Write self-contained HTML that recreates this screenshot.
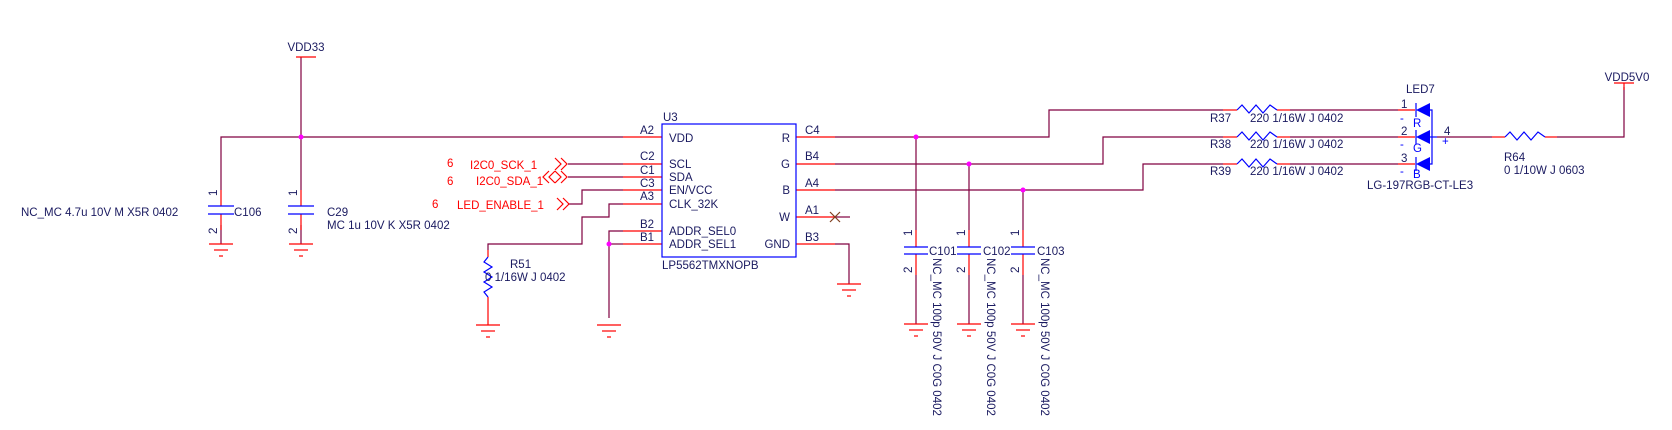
<!DOCTYPE html>
<html><head><meta charset="utf-8"><style>
html,body{margin:0;padding:0;background:#fff;}
svg{display:block;}
text{font-family:"Liberation Sans",sans-serif;font-size:11.5px;fill:#1a1a60;}
.r{fill:#ff0000;}
</style></head><body>
<svg width="1672" height="430" viewBox="0 0 1672 430" xmlns="http://www.w3.org/2000/svg">
<defs>
<g id="gnd" stroke="#ff0000" stroke-width="1.2"><line x1="-12" y1="0" x2="12" y2="0"/><line x1="-7" y1="6" x2="7" y2="6"/><line x1="-2" y1="12" x2="2" y2="12"/></g>
</defs>
<g fill="none" stroke-width="1.2">
<!-- wires maroon -->
<g stroke="#800040">
<polyline points="301,57 301,137"/>
<polyline points="221,190 221,137 623,137"/>
<polyline points="301,137 301,190"/>
<polyline points="568,164 623,164"/>
<polyline points="568,177 623,177"/>
<polyline points="568,204 582,204 582,190 623,190"/>
<polyline points="623,204 609,204 609,217 582,217 582,244 488,244 488,250"/>
<polyline points="623,231 609,231 609,318"/>
<line x1="609" y1="244" x2="623" y2="244"/>
<polyline points="835,244 849,244 849,284"/>
<line x1="835" y1="217" x2="850" y2="217"/>
<polyline points="835,137 1049,137 1049,110 1223,110"/>
<polyline points="835,164 1103,164 1103,137 1223,137"/>
<polyline points="835,190 1143,190 1143,164 1223,164"/>
<line x1="916" y1="137" x2="916" y2="230"/>
<line x1="969" y1="164" x2="969" y2="230"/>
<line x1="1023" y1="190" x2="1023" y2="230"/>
<line x1="916" y1="275" x2="916" y2="324"/>
<line x1="969" y1="275" x2="969" y2="324"/>
<line x1="1023" y1="275" x2="1023" y2="324"/>
<line x1="1290" y1="110" x2="1398" y2="110"/>
<line x1="1290" y1="137" x2="1398" y2="137"/>
<line x1="1290" y1="164" x2="1398" y2="164"/>
<line x1="1437" y1="137" x2="1492" y2="137"/>
<polyline points="1557,137 1624,137 1624,87"/>
<line x1="221" y1="225" x2="221" y2="244"/>
<line x1="301" y1="225" x2="301" y2="244"/>
</g>
<!-- red pins -->
<g stroke="#ff0000">
<line x1="296" y1="57" x2="316" y2="57"/>
<line x1="1614" y1="83" x2="1634" y2="83"/>
<line x1="1624" y1="83" x2="1624" y2="90"/>
<line x1="221" y1="190" x2="221" y2="206"/><line x1="221" y1="214" x2="221" y2="230"/>
<line x1="301" y1="190" x2="301" y2="206"/><line x1="301" y1="214" x2="301" y2="230"/>
<line x1="623" y1="137" x2="662" y2="137"/>
<line x1="623" y1="164" x2="662" y2="164"/>
<line x1="623" y1="177" x2="662" y2="177"/>
<line x1="623" y1="190" x2="662" y2="190"/>
<line x1="623" y1="204" x2="662" y2="204"/>
<line x1="623" y1="231" x2="662" y2="231"/>
<line x1="623" y1="244" x2="662" y2="244"/>
<line x1="796" y1="137" x2="835" y2="137"/>
<line x1="796" y1="164" x2="835" y2="164"/>
<line x1="796" y1="190" x2="835" y2="190"/>
<line x1="796" y1="217" x2="835" y2="217"/>
<line x1="796" y1="244" x2="835" y2="244"/>
<line x1="488" y1="250" x2="488" y2="257"/><line x1="488" y1="297" x2="488" y2="325"/>
<line x1="916" y1="230" x2="916" y2="247"/><line x1="916" y1="254" x2="916" y2="275"/>
<line x1="969" y1="230" x2="969" y2="247"/><line x1="969" y1="254" x2="969" y2="275"/>
<line x1="1023" y1="230" x2="1023" y2="247"/><line x1="1023" y1="254" x2="1023" y2="275"/>
<line x1="1223" y1="110" x2="1237" y2="110"/><line x1="1277" y1="110" x2="1290" y2="110"/>
<line x1="1223" y1="137" x2="1237" y2="137"/><line x1="1277" y1="137" x2="1290" y2="137"/>
<line x1="1223" y1="164" x2="1237" y2="164"/><line x1="1277" y1="164" x2="1290" y2="164"/>
<line x1="1398" y1="110" x2="1415" y2="110"/>
<line x1="1398" y1="137" x2="1415" y2="137"/>
<line x1="1398" y1="164" x2="1415" y2="164"/>
<line x1="1492" y1="137" x2="1505" y2="137"/><line x1="1545" y1="137" x2="1557" y2="137"/>
<!-- net arrows -->
<polyline points="555,158 561,164 555,170"/><polyline points="561,158 567,164 561,170"/>
<polyline points="555,171 561,177 555,183"/><polyline points="561,171 567,177 561,183"/>
<polyline points="549,171 543,177 549,183"/><polyline points="555,171 549,177 555,183"/>
<polyline points="557,198 563,204 557,210"/><polyline points="563,198 569,204 563,210"/>
</g>
<!-- grounds -->
<use href="#gnd" x="221" y="244"/>
<use href="#gnd" x="301" y="244"/>
<use href="#gnd" x="488" y="325"/>
<use href="#gnd" x="609" y="325"/>
<use href="#gnd" x="849" y="284"/>
<use href="#gnd" x="916" y="324"/>
<use href="#gnd" x="969" y="324"/>
<use href="#gnd" x="1023" y="324"/>
<!-- blue parts -->
<g stroke="#0000ff">
<line x1="208" y1="206" x2="234" y2="206"/><line x1="208" y1="214" x2="234" y2="214"/>
<line x1="288" y1="206" x2="314" y2="206"/><line x1="288" y1="214" x2="314" y2="214"/>
<line x1="904" y1="247" x2="928" y2="247"/><line x1="904" y1="254" x2="928" y2="254"/>
<line x1="957" y1="247" x2="981" y2="247"/><line x1="957" y1="254" x2="981" y2="254"/>
<line x1="1011" y1="247" x2="1035" y2="247"/><line x1="1011" y1="254" x2="1035" y2="254"/>
<rect x="662" y="124" width="134" height="133"/>
<polyline points="488,257 484,262 492,267 484,272 492,277 484,282 492,287 484,292 488,297"/>
<polyline points="1237,110 1242,105 1249,113 1256,105 1263,113 1270,105 1277,110"/>
<polyline points="1237,137 1242,132 1249,140 1256,132 1263,140 1270,132 1277,137"/>
<polyline points="1237,164 1242,159 1249,167 1256,159 1263,167 1270,159 1277,164"/>
<polyline points="1505,137 1510,132 1517,140 1524,132 1531,140 1538,132 1545,137"/>
<polyline points="1430,110 1432,110 1432,164 1430,164"/>
<line x1="1430" y1="137" x2="1437" y2="137"/>
<line x1="1416" y1="103" x2="1416" y2="117"/>
<line x1="1416" y1="130" x2="1416" y2="144"/>
<line x1="1416" y1="157" x2="1416" y2="171"/>
</g>
<g fill="#0000ff" stroke="none">
<polygon points="1416,110 1430,103 1430,117"/>
<polygon points="1416,137 1430,130 1430,144"/>
<polygon points="1416,164 1430,157 1430,171"/>
</g>
<g stroke="#804020"><line x1="830" y1="212" x2="840" y2="222"/><line x1="830" y1="222" x2="840" y2="212"/></g>
</g>
<!-- junctions -->
<g fill="#ff00ff"><circle cx="301" cy="137" r="2.5"/><circle cx="609" cy="244" r="2.5"/><circle cx="916" cy="137" r="2.5"/><circle cx="969" cy="164" r="2.5"/><circle cx="1023" cy="190" r="2.5"/></g>
<!-- text -->
<text x="306" y="51" text-anchor="middle">VDD33</text>
<text x="1627" y="81" text-anchor="middle">VDD5V0</text>
<text x="21" y="216">NC_MC 4.7u 10V M X5R 0402</text>
<text x="234" y="216">C106</text>
<text x="327" y="216">C29</text>
<text x="327" y="229">MC 1u 10V K X5R 0402</text>
<text transform="translate(217,196) rotate(-90)" font-size="10">1</text>
<text transform="translate(217,234) rotate(-90)" font-size="10">2</text>
<text transform="translate(297,196) rotate(-90)" font-size="10">1</text>
<text transform="translate(297,234) rotate(-90)" font-size="10">2</text>
<text class="r" x="447" y="167">6</text>
<text class="r" x="470" y="169">I2C0_SCK_1</text>
<text class="r" x="447" y="185">6</text>
<text class="r" x="476" y="185">I2C0_SDA_1</text>
<text class="r" x="432" y="208">6</text>
<text class="r" x="457" y="209">LED_ENABLE_1</text>
<text x="663" y="121">U3</text>
<text x="662" y="269">LP5562TMXNOPB</text>
<text x="640" y="134">A2</text><text x="640" y="160">C2</text><text x="640" y="174">C1</text><text x="640" y="187">C3</text><text x="640" y="200">A3</text><text x="640" y="228">B2</text><text x="640" y="241">B1</text>
<text x="669" y="142">VDD</text><text x="669" y="168">SCL</text><text x="669" y="181">SDA</text><text x="669" y="194">EN/VCC</text><text x="669" y="208">CLK_32K</text><text x="669" y="235">ADDR_SEL0</text><text x="669" y="248">ADDR_SEL1</text>
<text x="790" y="142" text-anchor="end">R</text><text x="790" y="168" text-anchor="end">G</text><text x="790" y="194" text-anchor="end">B</text><text x="790" y="221" text-anchor="end">W</text><text x="790" y="248" text-anchor="end">GND</text>
<text x="805" y="134">C4</text><text x="805" y="160">B4</text><text x="805" y="187">A4</text><text x="805" y="214">A1</text><text x="805" y="241">B3</text>
<text x="510" y="268">R51</text>
<text x="485" y="281">0 1/16W J 0402</text>
<text transform="translate(912,236) rotate(-90)" font-size="10">1</text><text transform="translate(912,273) rotate(-90)" font-size="10">2</text>
<text transform="translate(965,236) rotate(-90)" font-size="10">1</text><text transform="translate(965,273) rotate(-90)" font-size="10">2</text>
<text transform="translate(1019,236) rotate(-90)" font-size="10">1</text><text transform="translate(1019,273) rotate(-90)" font-size="10">2</text>
<text x="929" y="255">C101</text><text x="983" y="255">C102</text><text x="1037" y="255">C103</text>
<text transform="translate(933,258) rotate(90)">NC_MC 100p 50V J C0G 0402</text>
<text transform="translate(987,258) rotate(90)">NC_MC 100p 50V J C0G 0402</text>
<text transform="translate(1041,258) rotate(90)">NC_MC 100p 50V J C0G 0402</text>
<text x="1210" y="122">R37</text><text x="1250" y="122">220 1/16W J 0402</text>
<text x="1210" y="148">R38</text><text x="1250" y="148">220 1/16W J 0402</text>
<text x="1210" y="175">R39</text><text x="1250" y="175">220 1/16W J 0402</text>
<text x="1406" y="93">LED7</text>
<text x="1401" y="108">1</text><text x="1401" y="135">2</text><text x="1401" y="162">3</text><text x="1444" y="135">4</text>
<text x="1400" y="122" style="fill:#0000ff">-</text><text x="1400" y="148" style="fill:#0000ff">-</text><text x="1400" y="175" style="fill:#0000ff">-</text>
<text x="1413" y="127" font-size="9" style="fill:#0000ff">R</text><text x="1413" y="152" font-size="9" style="fill:#0000ff">G</text><text x="1413" y="178" font-size="9" style="fill:#0000ff">B</text>
<text x="1442" y="145" font-size="9" style="fill:#0000ff">+</text>
<text x="1367" y="189">LG-197RGB-CT-LE3</text>
<text x="1504" y="161">R64</text>
<text x="1504" y="174">0 1/10W J 0603</text>
</svg>
</body></html>
